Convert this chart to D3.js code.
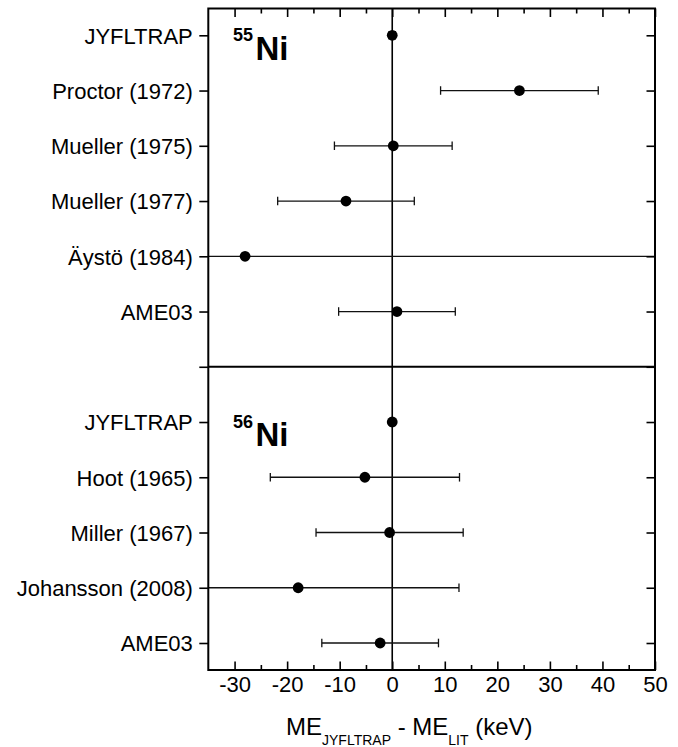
<!DOCTYPE html>
<html>
<head>
<meta charset="utf-8">
<script src="https://cdn.jsdelivr.net/npm/d3@7"></script>
<style>
  body { margin: 0; background: #fff; }
  svg text { font-family: "Liberation Sans", Arial, Helvetica, sans-serif; fill: #000; }
</style>
</head>
<body>
<svg id="chart"></svg>
<script>
// Data (keV)
const labels55 = ["JYFLTRAP", "Proctor (1972)", "Mueller (1975)", "Mueller (1977)", "Äystö (1984)", "AME03"];
const values55 = [0, 24.2, 0.2, -8.8, -28.0, 0.9];
const errors55 = [0.6, 15.0, 11.2, 13.0, 100, 11.1];

const labels56 = ["JYFLTRAP", "Hoot (1965)", "Miller (1967)", "Johansson (2008)", "AME03"];
const values56 = [0, -5.2, -0.5, -17.9, -2.3];
const errors56 = [0.5, 18.0, 14.0, 30.6, 11.1];

const xTicks = [-30, -20, -10, 0, 10, 20, 30, 40, 50];
const xMinorTicks = [-25, -15, -5, 5, 15, 25, 35, 45];

const width = 678, height = 747;
const frameL = 208.3, frameR = 655, frameT = 8.5, frameB = 670;

// rows: 0..5 = 55Ni, 6 = divider, 7..11 = 56Ni
const rows = [];
labels55.forEach((l, i) => rows.push({ row: i, label: l, value: values55[i], err: errors55[i] }));
labels56.forEach((l, i) => rows.push({ row: i + 7, label: l, value: values56[i], err: errors56[i] }));
const tickLabels = labels55.concat([""], labels56);

const svg = d3.select("#chart")
    .attr("width", width)
    .attr("height", height);

svg.append("rect").attr("width", width).attr("height", height).attr("fill", "#fff");

const x = d3.scaleLinear().domain([-35, 50]).range([frameL, frameR]);
const y = d3.scaleLinear().domain([0, 11]).range([35.3, 643]);

svg.append("clipPath").attr("id", "frameClip")
  .append("rect")
    .attr("x", frameL).attr("y", frameT)
    .attr("width", frameR - frameL).attr("height", frameB - frameT);

const plot = svg.append("g").attr("clip-path", "url(#frameClip)");

// zero line
plot.append("line")
    .attr("x1", x(0)).attr("x2", x(0))
    .attr("y1", frameT).attr("y2", frameB)
    .attr("stroke", "#000").attr("stroke-width", 1.6);

// divider between nuclides
plot.append("line")
    .attr("x1", frameL).attr("x2", frameR)
    .attr("y1", y(6)).attr("y2", y(6))
    .attr("stroke", "#000").attr("stroke-width", 2);

// error bars
const bars = plot.append("g").selectAll("g")
    .data(rows)
    .join("g")
    .attr("stroke", "#111")
    .attr("stroke-width", 1.3);

bars.append("line")
    .attr("x1", d => x(d.value - d.err))
    .attr("x2", d => x(d.value + d.err))
    .attr("y1", d => y(d.row))
    .attr("y2", d => y(d.row));

bars.each(function(d) {
    const g = d3.select(this);
    [d.value - d.err, d.value + d.err].forEach(v => {
        if (v > -35 && v < 50) {
            g.append("line")
                .attr("x1", x(v)).attr("x2", x(v))
                .attr("y1", y(d.row) - 4.3).attr("y2", y(d.row) + 4.3);
        }
    });
});

// points
plot.append("g").selectAll("circle")
    .data(rows)
    .join("circle")
    .attr("cx", d => x(d.value))
    .attr("cy", d => y(d.row))
    .attr("r", 5.4)
    .attr("fill", "#000");

// axes
const leftAxis = svg.append("g")
    .attr("transform", `translate(${frameL},0)`)
    .call(d3.axisLeft(y)
        .tickValues(d3.range(0, 12))
        .tickFormat(i => tickLabels[i])
        .tickSize(9)
        .tickSizeOuter(0)
        .tickPadding(6.5));

const rightAxis = svg.append("g")
    .attr("transform", `translate(${frameR},0)`)
    .call(d3.axisRight(y)
        .tickValues(d3.range(0, 12))
        .tickFormat("")
        .tickSize(-8.5)
        .tickSizeOuter(0));

const bottomAxis = svg.append("g")
    .attr("transform", `translate(0,${frameB})`)
    .call(d3.axisBottom(x)
        .tickValues(xTicks)
        .tickFormat(d => String(d))
        .tickSize(-8.5)
        .tickSizeOuter(0)
        .tickPadding(6));

const bottomMinor = svg.append("g")
    .attr("transform", `translate(0,${frameB})`)
    .call(d3.axisBottom(x)
        .tickValues(xMinorTicks)
        .tickFormat("")
        .tickSize(-5)
        .tickSizeOuter(0));

const topAxis = svg.append("g")
    .attr("transform", `translate(0,${frameT})`)
    .call(d3.axisTop(x)
        .tickValues(xTicks)
        .tickFormat("")
        .tickSize(-8.5)
        .tickSizeOuter(0));

const topMinor = svg.append("g")
    .attr("transform", `translate(0,${frameT})`)
    .call(d3.axisTop(x)
        .tickValues(xMinorTicks)
        .tickFormat("")
        .tickSize(-5)
        .tickSizeOuter(0));

[leftAxis, rightAxis, bottomAxis, bottomMinor, topAxis, topMinor].forEach(a => {
    a.select(".domain").remove();
    a.selectAll(".tick line").attr("stroke", "#000").attr("stroke-width", 1.6);
    a.selectAll("text")
        .style("font-family", "'Liberation Sans', Arial, sans-serif")
        .style("font-size", "22px")
        .attr("fill", "#000");
});
leftAxis.selectAll("text").attr("dy", "0.36em");

// frame
svg.append("rect")
    .attr("x", frameL).attr("y", frameT)
    .attr("width", frameR - frameL).attr("height", frameB - frameT)
    .attr("fill", "none")
    .attr("stroke", "#000")
    .attr("stroke-width", 2);

// nuclide labels
[{ row: 0, mass: "55" }, { row: 7, mass: "56" }].forEach(n => {
    svg.append("text")
        .attr("x", 233).attr("y", y(n.row) + 5.8)
        .style("font-size", "18px").style("font-weight", "bold")
        .text(n.mass);
    svg.append("text")
        .attr("x", 255.5).attr("y", y(n.row) + 24.2)
        .style("font-size", "33px").style("font-weight", "bold")
        .text("Ni");
});

// x axis title
const title = svg.append("text")
    .attr("x", 286).attr("y", 735)
    .style("font-size", "24px");
title.append("tspan").text("ME");
title.append("tspan").attr("dy", 10).style("font-size", "14px").text("JYFLTRAP");
title.append("tspan").attr("dy", -10).text(" - ME");
title.append("tspan").attr("dy", 10).style("font-size", "14px").text("LIT");
title.append("tspan").attr("dy", -10).text(" (keV)");
</script>
</body>
</html>
